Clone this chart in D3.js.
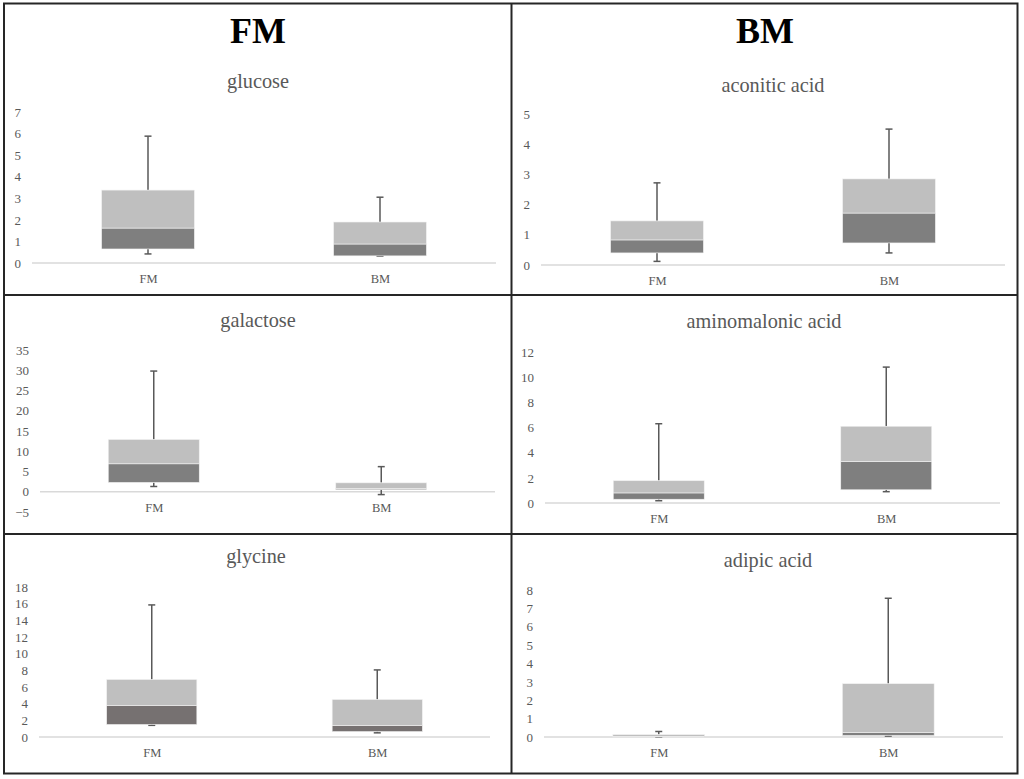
<!DOCTYPE html>
<html><head><meta charset="utf-8">
<script src="https://cdn.jsdelivr.net/npm/d3@7"></script>
<style>body{margin:0;background:#fff}svg{display:block}</style>
</head><body>
<svg id="chart" width="1024" height="779"></svg>
<script>
// ---------- data ----------
const groups = ["FM", "BM"];
const columnTitles = ["FM", "BM"];
const metabolites = ["glucose", "aconitic acid", "galactose", "aminomalonic acid", "glycine", "adipic acid"];
// per metabolite, per group: [min, Q1, median, Q3, max]
const glucose    = [[0.42, 0.65, 1.62, 3.38, 5.88], [0.32, 0.33, 0.88, 1.90, 3.05]];
const aconitic   = [[0.12, 0.40, 0.83, 1.46, 2.72], [0.40, 0.73, 1.72, 2.85, 4.50]];
const galactose  = [[1.3, 2.3, 6.9, 12.9, 29.8], [-0.7, 0.5, 0.8, 2.2, 6.2]];
const aminomal   = [[0.18, 0.30, 0.80, 1.77, 6.30], [0.90, 1.05, 3.30, 6.10, 10.8]];
const glycine    = [[1.4, 1.5, 3.8, 6.9, 15.85], [0.5, 0.65, 1.4, 4.5, 8.05]];
const adipic     = [[0.01, 0.01, 0.03, 0.13, 0.30], [0.05, 0.08, 0.25, 2.90, 7.55]];
const seriesByPanel = [glucose, aconitic, galactose, aminomal, glycine, adipic];
// axis domains and tick values
const yDomains = [[0, 7], [0, 5], [-5, 35], [0, 12], [0, 18], [0, 8]];
const yTicks = [
  [0,1,2,3,4,5,6,7],
  [0,1,2,3,4,5],
  [-5,0,5,10,15,20,25,30,35],
  [0,2,4,6,8,10,12],
  [0,2,4,6,8,10,12,14,16,18],
  [0,1,2,3,4,5,6,7,8]
];

// ---------- layout (pixels) ----------
const layout = [
  {x0: 32,  x1: 496,  yb: 263, yt: 112, tx: 258, ty: 88},
  {x0: 541, x1: 1005, yb: 265, yt: 114, tx: 773, ty: 92},
  {x0: 40,  x1: 495,  yb: 512, yt: 350, tx: 258, ty: 327},
  {x0: 545, x1: 1000, yb: 503, yt: 352, tx: 764, ty: 328},
  {x0: 39,  x1: 490,  yb: 737, yt: 587, tx: 256, ty: 563},
  {x0: 544, x1: 1003, yb: 737, yt: 590, tx: 768, ty: 567}
];
const darkFill = ["#7f7f7f","#7f7f7f","#7f7f7f","#7f7f7f","#767171","#7f7f7f"];
const lightFill = "#bfbfbf";
const textCol = "#595959";
const serif = "'Liberation Serif','Times New Roman',serif";

const svg = d3.select("#chart");

// frame
const frame = svg.append("g").attr("stroke", "#262626").attr("stroke-width", 2).attr("fill", "none");
frame.append("rect").attr("x", 4).attr("y", 3.5).attr("width", 1013.5).attr("height", 770);
frame.append("line").attr("x1", 511.5).attr("x2", 511.5).attr("y1", 3.5).attr("y2", 773.5);
frame.append("line").attr("x1", 4).attr("x2", 1017.5).attr("y1", 295).attr("y2", 295);
frame.append("line").attr("x1", 4).attr("x2", 1017.5).attr("y1", 534).attr("y2", 534);

// column titles
const colCenters = [258, 765];
columnTitles.forEach((t, i) => {
  svg.append("text").attr("x", colCenters[i]).attr("y", 43)
    .attr("text-anchor", "middle").attr("font-family", serif)
    .attr("font-weight", "bold").attr("font-size", 36).attr("fill", "#000").text(t);
});

seriesByPanel.forEach((series, p) => {
  const L = layout[p];
  const g = svg.append("g");
  const y = d3.scaleLinear().domain(yDomains[p]).range([L.yb, L.yt]);
  const x = d3.scalePoint().domain(groups).range([L.x0, L.x1]).padding(0.5);
  const bw = x.step() * 0.4;

  // title
  g.append("text").attr("x", L.tx).attr("y", L.ty).attr("text-anchor", "middle")
    .attr("font-family", serif).attr("font-size", 20.3).attr("fill", textCol).text(metabolites[p]);

  // y axis labels
  const ya = g.append("g").attr("transform", `translate(${L.x0},0)`)
    .call(d3.axisLeft(y).tickValues(yTicks[p]).tickSize(0).tickPadding(11).tickFormat(d3.format("d")));
  ya.select(".domain").remove();
  ya.selectAll("text").attr("font-family", serif).attr("font-size", 13).attr("fill", textCol);

  // zero baseline
  g.append("line").attr("x1", L.x0).attr("x2", L.x1).attr("y1", y(0)).attr("y2", y(0))
    .attr("stroke", "#d9d9d9").attr("stroke-width", 1.5);

  // category labels
  const xa = g.append("g").attr("transform", `translate(0,${y(0)})`)
    .call(d3.axisBottom(x).tickSize(0).tickPadding(11));
  xa.select(".domain").remove();
  xa.selectAll("text").attr("font-family", serif).attr("font-size", 12.5).attr("fill", textCol);

  groups.forEach((grp, i) => {
    const [mn, q1, md, q3, mx] = series[i];
    const cx = x(grp);
    const wg = g.append("g").attr("stroke", textCol).attr("stroke-width", 1.5);
    // whiskers
    wg.append("line").attr("x1", cx).attr("x2", cx).attr("y1", y(q3)).attr("y2", y(mx));
    wg.append("line").attr("x1", cx - 3.5).attr("x2", cx + 3.5).attr("y1", y(mx)).attr("y2", y(mx));
    wg.append("line").attr("x1", cx).attr("x2", cx).attr("y1", y(q1)).attr("y2", y(mn));
    wg.append("line").attr("x1", cx - 3.5).attr("x2", cx + 3.5).attr("y1", y(mn)).attr("y2", y(mn));
    // boxes
    g.append("rect").attr("x", cx - bw / 2).attr("width", bw)
      .attr("y", y(md)).attr("height", Math.max(0, y(q1) - y(md)))
      .attr("fill", darkFill[p]).attr("stroke", "#f2f2f2").attr("stroke-width", 0.6);
    g.append("rect").attr("x", cx - bw / 2).attr("width", bw)
      .attr("y", y(q3)).attr("height", Math.max(0, y(md) - y(q3)))
      .attr("fill", lightFill).attr("stroke", "#f2f2f2").attr("stroke-width", 0.6);
  });
});
</script>
</body></html>
